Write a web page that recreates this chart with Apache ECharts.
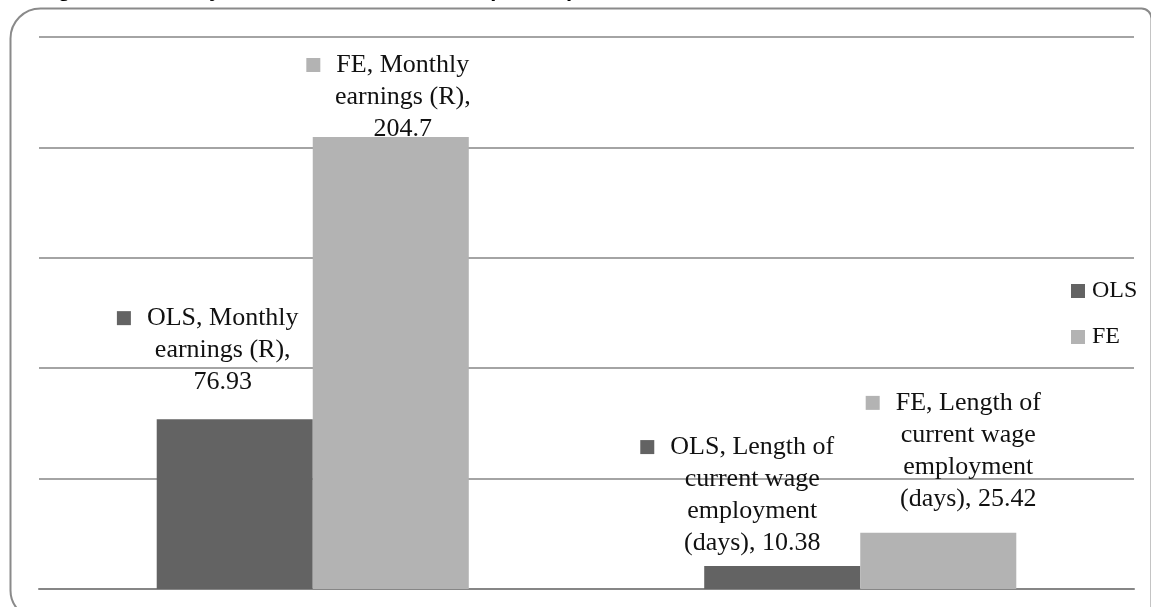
<!DOCTYPE html>
<html>
<head>
<meta charset="utf-8">
<script src="https://cdn.jsdelivr.net/npm/echarts@6/dist/echarts.min.js"></script>
<style>
  html, body { margin: 0; padding: 0; background: #fff; }
  #chart { width: 1151px; height: 607px; }
</style>
</head>
<body>
<div id="chart"></div>
<script>
// Outcome categories and estimates per estimator
const categories = ['Monthly earnings (R)', 'Length of current wage employment (days)'];
const seriesNames = ['OLS', 'FE'];
const olsValues = [76.93, 10.38];
const feValues = [204.7, 25.42];

const colors = { OLS: '#636363', FE: '#b3b3b3' };
const labelFont = '"Liberation Serif", "DejaVu Serif", serif';

// Per-bar label nudges [dx, dy] for each series, by category
const labelNudges = {
  OLS: [[-12, -21], [-30, -7]],
  FE: [[12, 8], [30, -18]]
};

// Greedy word wrap to a maximum number of characters per line
function wrap(text, maxChars) {
  const words = text.split(' ');
  const lines = [];
  let cur = '';
  words.forEach(w => {
    const next = cur ? cur + ' ' + w : w;
    if (next.length > maxChars && cur) { lines.push(cur); cur = w; }
    else cur = next;
  });
  if (cur) lines.push(cur);
  return lines;
}

function makeLabelFormatter(name) {
  return function (p) {
    const lines = wrap(name + ', ' + p.name + ', ' + p.value, 14);
    const out = lines.map((l, i) => i === 0
      ? '{sq' + name + '|}{gap|}{t|' + l + '}{pad|}'
      : '{t|' + l + '}');
    return out.join('\n');
  };
}

function makeSeries(name, values) {
  return {
    name: name,
    type: 'bar',
    barGap: '0%',
    barCategoryGap: '43%',
    itemStyle: { color: colors[name] },
    data: values.map((v, i) => ({
      value: v,
      label: { offset: labelNudges[name][i] }
    })),
    label: {
      show: true,
      position: 'top',
      distance: 0,
      align: 'center',
      formatter: makeLabelFormatter(name),
      lineHeight: 32,
      rich: {
        t: { fontFamily: labelFont, fontSize: 26, color: '#111', lineHeight: 32 },
        sqOLS: { width: 14, height: 14, backgroundColor: colors.OLS },
        sqFE: { width: 14, height: 14, backgroundColor: colors.FE },
        gap: { width: 16 },
        pad: { width: 30 }
      }
    }
  };
}

const chart = echarts.init(document.getElementById('chart'), null, { renderer: 'canvas' });

chart.setOption({
  animation: false,
  backgroundColor: '#fff',
  graphic: [
    {
      type: 'rect',
      z: -10,
      shape: { x: 10.5, y: 8.5, width: 1141, height: 610, r: [30, 10, 10, 28] },
      style: { fill: 'none', stroke: '#8a8a8a', lineWidth: 2 }
    },
    {
      type: 'text',
      z: 10,
      style: {
        x: 38, y: 1,
        text: 'Figure 4: Monthly returns to labour market (R & FE)',
        font: 'bold 22px "Liberation Sans", sans-serif',
        fill: '#000',
        textVerticalAlign: 'bottom'
      }
    }
  ],
  grid: { left: 39, right: 17, top: 37, bottom: 18, containLabel: false },
  legend: {
    orient: 'vertical',
    left: 1066,
    top: 274,
    itemWidth: 14,
    itemHeight: 14,
    itemGap: 22,
    icon: 'rect',
    data: seriesNames,
    textStyle: { fontFamily: labelFont, fontSize: 24, color: '#111', padding: [0, 0, 0, 2] }
  },
  xAxis: {
    type: 'category',
    data: categories,
    axisLine: { show: true, lineStyle: { color: '#868686', width: 2 } },
    axisTick: { show: false },
    axisLabel: { show: false }
  },
  yAxis: {
    type: 'value',
    min: 0,
    max: 250,
    interval: 50,
    axisLine: { show: false },
    axisTick: { show: false },
    axisLabel: { show: false },
    splitLine: { lineStyle: { color: '#868686', width: 1.5 } }
  },
  series: [
    makeSeries('OLS', olsValues),
    makeSeries('FE', feValues)
  ]
});
</script>
</body>
</html>
